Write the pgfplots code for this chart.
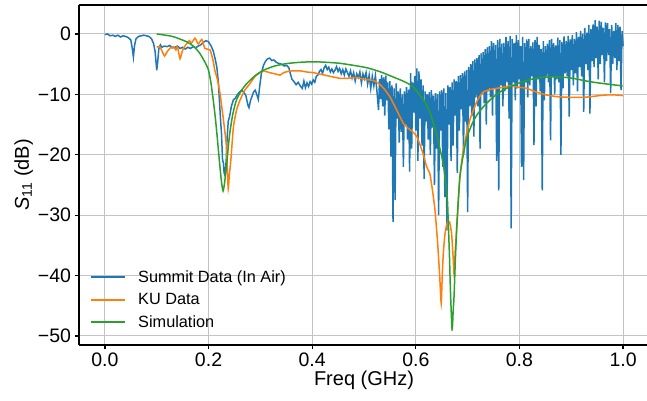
\documentclass[border=0pt]{standalone}
\usepackage{pgfplots}
\usepackage{pgfplotstable}
\pgfplotsset{compat=1.18}
\usepackage{fontspec}
\setmainfont{Liberation Sans}
\definecolor{c0}{HTML}{1F77B4}
\definecolor{c1}{HTML}{FF7F0E}
\definecolor{c2}{HTML}{2CA02C}
\definecolor{gridc}{HTML}{C4C4C4}
\pgfplotsset{legend image code/.code={\draw[#1, line width=2pt] (0pt,0.5pt) -- (34pt,0.5pt);\path[draw=none, fill=none] (0pt,-0.1pt) rectangle (45pt,0.1pt);}}

\pgfplotstableread{
f dB
0.000 -0.1
0.005 0.0
0.010 -0.3
0.015 -0.2
0.020 -0.4
0.025 -0.2
0.030 -0.5
0.035 -0.3
0.040 -0.4
0.045 -0.6
0.050 -1.0
0.053 -2.5
0.055 -3.8
0.057 -2.0
0.060 -0.8
0.065 -0.4
0.070 -0.3
0.075 -0.2
0.080 -0.3
0.085 -0.4
0.090 -0.8
0.094 -1.6
0.097 -3.0
0.100 -6.0
0.102 -4.5
0.104 -2.5
0.107 -1.8
0.110 -2.2
0.115 -2.0
0.120 -2.1
0.125 -1.9
0.130 -2.3
0.135 -2.2
0.140 -2.0
0.145 -2.4
0.150 -2.2
0.155 -2.5
0.160 -2.2
0.165 -2.4
0.170 -2.1
0.175 -2.3
0.180 -2.0
0.185 -1.8
0.190 -1.4
0.195 -1.1
0.200 -1.3
0.205 -2.0
0.209 -2.8
0.213 -4.2
0.216 -5.5
0.219 -8.0
0.221 -11.0
0.223 -14.0
0.225 -16.5
0.227 -20.8
0.229 -21.5
0.230 -23.0
0.232 -23.5
0.234 -21.0
0.236 -17.0
0.238 -14.5
0.241 -13.5
0.244 -12.0
0.248 -10.9
0.252 -10.6
0.256 -10.0
0.260 -9.6
0.264 -9.3
0.268 -9.6
0.272 -10.2
0.276 -11.8
0.278 -12.2
0.281 -11.0
0.284 -10.3
0.287 -9.6
0.290 -9.3
0.293 -10.0
0.296 -10.8
0.299 -8.5
0.302 -6.5
0.306 -5.2
0.310 -4.5
0.314 -4.1
0.318 -4.0
0.322 -4.4
0.326 -4.3
0.331 -4.7
0.336 -4.9
0.341 -5.0
0.346 -5.3
0.351 -5.2
0.355 -5.6
0.358 -6.6
0.361 -7.5
0.365 -7.9
0.369 -8.4
0.373 -8.0
0.377 -8.6
0.381 -9.0
0.384 -7.8
0.387 -8.9
0.390 -8.1
0.393 -8.7
0.396 -7.9
0.399 -8.3
0.402 -7.6
0.405 -8.0
0.408 -7.0
0.411 -6.8
0.414 -6.2
0.417 -5.9
0.420 -6.5
0.423 -5.6
0.426 -5.2
0.429 -5.9
0.432 -5.5
0.435 -6.3
0.438 -5.8
0.441 -6.4
0.444 -6.0
0.447 -5.4
0.450 -6.2
0.453 -5.7
0.456 -6.6
0.459 -5.9
0.462 -6.8
0.465 -5.8
0.468 -6.4
0.471 -7.0
0.474 -6.1
0.477 -7.3
0.480 -6.4
0.483 -7.8
0.486 -6.6
0.489 -7.2
0.492 -6.3
0.495 -8.1
0.498 -6.6
0.501 -7.4
0.504 -6.4
0.507 -8.3
0.510 -6.8
0.513 -9.0
0.516 -7.0
0.519 -8.6
0.522 -6.9
0.525 -9.5
0.528 -12.6
0.530 -7.5
0.532 -10.8
0.534 -6.8
0.536 -12.0
0.538 -7.2
0.540 -13.5
0.542 -6.9
0.544 -11.0
0.546 -8.0
0.548 -15.8
0.550 -7.8
0.552 -20.3
0.554 -8.5
0.556 -31.1
0.558 -9.0
0.560 -27.5
0.562 -8.2
0.564 -14.0
0.566 -9.5
0.568 -18.0
0.570 -9.0
0.572 -16.2
0.574 -10.0
0.576 -22.0
0.578 -9.5
0.580 -15.0
0.582 -8.8
0.584 -17.5
0.586 -9.2
0.588 -22.8
0.590 -6.5
0.592 -19.0
0.594 -8.0
0.596 -13.0
0.598 -7.0
0.600 -16.0
0.602 -5.7
0.604 -21.0
0.606 -6.2
0.608 -14.0
0.610 -7.5
0.612 -18.5
0.614 -8.5
0.616 -24.0
0.618 -9.5
0.620 -14.5
0.622 -10.0
0.624 -17.5
0.626 -9.6
0.628 -20.0
0.630 -9.3
0.632 -15.5
0.634 -10.2
0.636 -25.0
0.638 -9.8
0.640 -19.0
0.642 -10.0
0.644 -30.0
0.646 -9.5
0.648 -16.0
0.650 -9.3
0.652 -22.0
0.654 -9.0
0.656 -27.0
0.658 -9.8
0.660 -32.5
0.662 -8.5
0.664 -15.0
0.666 -8.8
0.668 -21.0
0.670 -8.0
0.672 -18.5
0.674 -7.5
0.676 -13.5
0.678 -7.8
0.680 -23.0
0.682 -7.0
0.684 -16.0
0.686 -6.8
0.688 -12.5
0.690 -6.5
0.692 -20.0
0.694 -6.2
0.696 -14.5
0.698 -6.0
0.700 -29.5
0.702 -5.5
0.704 -12.0
0.706 -5.0
0.708 -13.5
0.710 -4.5
0.712 -17.0
0.714 -4.2
0.716 -10.5
0.718 -4.0
0.720 -12.0
0.722 -3.5
0.724 -19.0
0.726 -3.2
0.728 -10.0
0.730 -3.0
0.732 -11.5
0.734 -2.5
0.736 -15.0
0.738 -2.2
0.740 -9.5
0.742 -2.0
0.744 -10.5
0.746 -1.2
0.748 -13.5
0.750 -1.5
0.752 -9.0
0.754 -1.8
0.756 -21.0
0.758 -1.0
0.760 -25.9
0.762 -0.8
0.764 -8.5
0.766 -1.6
0.768 -12.0
0.770 -1.5
0.772 -9.5
0.774 -0.5
0.776 -8.0
0.778 -1.2
0.780 -14.0
0.782 -0.3
0.784 -32.2
0.786 -0.8
0.788 -8.0
0.790 -1.5
0.792 -11.0
0.794 -0.2
0.796 -9.0
0.798 -1.0
0.800 -7.5
0.802 -2.0
0.804 -22.0
0.806 -0.5
0.808 -24.2
0.810 -1.5
0.812 -8.0
0.814 -0.9
0.816 -10.5
0.818 -0.8
0.820 -8.5
0.822 -2.0
0.824 -7.0
0.826 -1.4
0.828 -18.4
0.830 -1.0
0.832 -12.0
0.834 -0.5
0.836 -7.5
0.838 -1.8
0.840 -9.5
0.842 -2.5
0.844 -25.9
0.846 -1.2
0.848 -11.0
0.850 -2.0
0.852 -7.0
0.854 -1.6
0.856 -8.0
0.858 -1.0
0.860 -17.6
0.862 -0.8
0.864 -7.0
0.866 -1.5
0.868 -10.0
0.870 -1.9
0.872 -7.5
0.874 -0.6
0.876 -8.0
0.878 -1.0
0.880 -20.0
0.882 -1.3
0.884 -9.0
0.886 -0.4
0.888 -6.5
0.890 -1.2
0.892 -7.0
0.894 -0.3
0.896 -13.7
0.898 -0.9
0.900 -6.0
0.902 -0.2
0.904 -8.5
0.906 -0.8
0.908 -6.5
0.910 0.3
0.912 -9.5
0.914 -0.5
0.916 -5.5
0.918 0.5
0.920 -7.0
0.922 0.0
0.924 -12.9
0.926 1.0
0.928 -5.0
0.930 0.2
0.932 -6.0
0.934 1.5
0.936 -13.2
0.938 0.8
0.940 -4.5
0.942 1.6
0.944 -5.5
0.946 2.3
0.948 -4.0
0.950 1.2
0.952 -7.5
0.954 2.2
0.956 -5.0
0.958 2.0
0.960 -3.5
0.962 1.0
0.964 -8.0
0.966 1.9
0.968 -4.5
0.970 1.8
0.972 -3.5
0.974 0.8
0.976 -9.8
0.978 1.5
0.980 -5.0
0.982 0.5
0.984 -4.0
0.986 1.8
0.988 -6.0
0.990 1.5
0.992 -4.5
0.994 1.2
0.996 -9.3
0.998 0.5
1.000 -2.0
}\summit

\pgfplotstableread{
f dB
0.100 -2.2
0.106 -2.1
0.115 -3.65
0.119 -3.1
0.125 -2.4
0.132 -2.1
0.137 -2.65
0.140 -2.1
0.145 -4.1
0.150 -2.65
0.156 -1.8
0.163 -1.1
0.167 -1.5
0.174 -0.7
0.180 -1.66
0.187 -0.9
0.193 -2.4
0.203 -2.65
0.209 -4.5
0.212 -6.0
0.217 -7.5
0.222 -9.8
0.228 -13.7
0.234 -18.1
0.236 -22.0
0.238 -25.6
0.240 -23.5
0.243 -20.9
0.248 -15.4
0.254 -12.6
0.261 -10.9
0.270 -9.3
0.280 -8.2
0.290 -7.0
0.302 -6.25
0.310 -6.2
0.318 -6.4
0.328 -6.6
0.338 -6.8
0.345 -6.4
0.351 -6.25
0.362 -6.1
0.376 -6.1
0.390 -6.3
0.402 -6.4
0.418 -6.7
0.434 -7.0
0.454 -7.35
0.467 -7.35
0.486 -7.2
0.499 -7.5
0.518 -7.7
0.530 -8.3
0.540 -9.2
0.550 -10.4
0.562 -12.4
0.570 -13.8
0.576 -14.8
0.585 -15.6
0.594 -16.2
0.602 -17.0
0.610 -18.8
0.616 -20.4
0.621 -22.0
0.627 -23.1
0.632 -25.8
0.637 -29.2
0.642 -34.5
0.646 -40.0
0.649 -44.6
0.651 -40.0
0.653 -36.4
0.656 -33.3
0.660 -31.4
0.665 -31.1
0.669 -33.0
0.672 -37.0
0.674 -40.0
0.676 -36.0
0.679 -32.0
0.685 -23.7
0.691 -19.6
0.698 -16.5
0.704 -14.3
0.711 -12.6
0.720 -10.8
0.730 -9.6
0.743 -9.2
0.756 -9.0
0.770 -8.8
0.782 -8.6
0.798 -8.8
0.814 -9.0
0.832 -9.6
0.852 -10.1
0.875 -10.4
0.904 -10.5
0.920 -10.5
0.936 -10.4
0.955 -10.2
0.969 -10.1
0.985 -10.1
1.000 -10.2
}\ku

\pgfplotstableread{
f dB
0.100 0.0
0.130 -0.4
0.158 -1.3
0.172 -2.1
0.183 -3.2
0.192 -4.5
0.200 -6.0
0.205 -8.3
0.209 -10.9
0.213 -13.8
0.216 -16.4
0.219 -19.2
0.222 -22.0
0.225 -24.5
0.228 -26.0
0.231 -24.6
0.235 -21.6
0.238 -18.8
0.241 -16.4
0.247 -13.2
0.254 -10.9
0.264 -9.3
0.274 -8.2
0.290 -6.9
0.306 -6.0
0.328 -5.3
0.351 -4.9
0.375 -4.7
0.402 -4.6
0.430 -4.7
0.454 -4.86
0.480 -5.2
0.506 -5.6
0.531 -6.25
0.550 -6.9
0.570 -7.6
0.585 -8.2
0.595 -8.8
0.605 -9.8
0.614 -10.8
0.621 -11.8
0.628 -13.2
0.634 -14.8
0.640 -16.6
0.646 -18.8
0.653 -21.5
0.658 -25.0
0.661 -27.5
0.663 -32.0
0.665 -37.0
0.667 -43.0
0.670 -49.0
0.672 -46.0
0.674 -43.0
0.676 -38.0
0.679 -32.0
0.682 -27.5
0.685 -23.7
0.690 -20.8
0.698 -17.3
0.708 -15.0
0.718 -13.4
0.733 -11.8
0.750 -10.4
0.768 -9.3
0.788 -8.5
0.810 -7.8
0.840 -7.2
0.872 -7.1
0.900 -7.3
0.936 -7.9
0.970 -8.3
0.999 -8.6
}\sim

\begin{document}
\begin{tikzpicture}
\useasboundingbox (0,0) rectangle (647pt,401pt);
\begin{axis}[
  at={(79pt,56pt)}, anchor=south west,
  scale only axis, width=570pt, height=340pt,
  xmin=-0.05, xmax=1.05, ymin=-51.5, ymax=4.8,
  axis x line*=box, axis y line*=left,
  axis line style={line width=1.6pt, black, -},
  xtick={0,0.2,0.4,0.6,0.8,1.0},
  xticklabels={0.0,0.2,0.4,0.6,0.8,1.0},
  ytick={-50,-40,-30,-20,-10,0},
  yticklabels={−50,−40,−30,−20,−10,0},
  xtick pos=lower, ytick pos=left,
  tick align=outside,
  major tick length=4.5pt,
  every tick/.style={black, line width=1.2pt},
  tick label style={font=\fontsize{19.5}{22}\selectfont},
  grid=major,
  major grid style={gridc, line width=1pt},
  xlabel={Freq (GHz)},
  ylabel={\textit{S}\textsubscript{11} (dB)},
  label style={font=\fontsize{20}{23}\selectfont},
  xlabel style={yshift=3pt},
  ylabel style={yshift=-2pt},
  legend cell align=left,
  legend style={draw=none, fill=none, at={(0.014,0.034)}, anchor=south west,
    font=\fontsize{16.3}{19}\selectfont, row sep=5.5pt},
]
\addplot[c0, line width=1.5pt] table[x=f, y=dB] {\summit};
\addlegendentry{Summit Data (In Air)}
\addplot[c1, line width=1.5pt, smooth, tension=0.3] table[x=f, y=dB] {\ku};
\addlegendentry{KU Data}
\addplot[c2, line width=1.5pt, smooth, tension=0.4] table[x=f, y=dB] {\sim};
\addlegendentry{Simulation}
\end{axis}
\end{tikzpicture}
\end{document}
